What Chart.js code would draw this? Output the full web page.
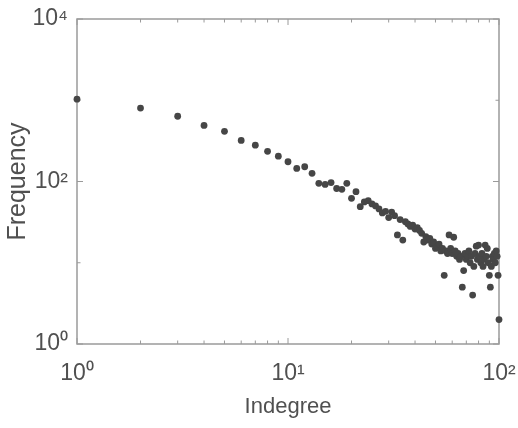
<!DOCTYPE html>
<html>
<head>
<meta charset="utf-8">
<script src="https://cdn.jsdelivr.net/npm/chart.js@4"></script>
<style>
  html, body { margin: 0; padding: 0; background: #fff; }
  #wrap { width: 518px; height: 428px; }
</style>
</head>
<body>
<div id="wrap"><canvas id="indegree-chart"></canvas></div>
<script>
// indegree values (x) and how often each occurs (y)
const indegree = [
  1, 2, 3, 4, 5, 6, 7, 8, 9, 10,
  11, 12, 13, 14, 15, 16, 17, 18, 19, 20,
  21, 22, 23, 24, 25, 26, 27, 28, 29, 30,
  31, 32, 33, 34, 35, 36, 37, 38, 39, 40,
  41, 42, 43, 44, 45, 46, 47, 48, 49, 50,
  51, 52, 53, 54, 55, 56, 57, 58, 59, 60,
  61, 62, 63, 64, 65, 66, 67, 68, 69, 70,
  71, 72, 73, 74, 75, 76, 77, 78, 79, 80,
  81, 82, 83, 84, 85, 86, 87, 88, 89, 90,
  91, 92, 93, 94, 95, 96, 97, 98, 99, 100
];
const frequency = [
  1030, 800, 635, 490, 415, 320, 280, 235, 205, 175,
  145, 152, 126, 95, 92, 97, 82, 80, 95, 62,
  75, 49, 56, 58, 53, 50, 46, 41, 43, 36,
  42, 38, 22, 34, 19, 32, 30, 28, 29, 26,
  27, 25, 23, 18, 21, 19, 20, 17, 18, 15,
  16, 17, 14, 15, 7, 14, 13, 22, 15, 13,
  20.6, 14, 12, 13, 11, 12, 5, 8, 13, 11,
  12, 14, 10, 12, 4, 9, 13, 16, 11, 16.5,
  12, 10, 13, 9, 11, 16.5, 12, 15, 10, 7,
  5, 9, 12, 11, 13, 10, 14, 12, 7, 2
];
const xTicks = [1, 10, 100];
const yTicks = [1, 100, 10000];
const xMinor = [2, 3, 4, 5, 6, 7, 8, 9, 20, 30, 40, 50, 60, 70, 80, 90];
const yMinor = [10, 1000];

const sup = { "0": "\u2070", "1": "\u00b9", "2": "\u00b2", "3": "\u00b3", "4": "\u2074" };
function powLabel(v) {
  const e = Math.round(Math.log10(v));
  return "10" + String(e).split("").map(c => sup[c]).join("");
}

const axisColor = "#9a9a9a";
const textColor = "#505050";

// box round the plot and little inward ticks, as matlab draws them
const boxPlugin = {
  id: "box",
  beforeDatasetsDraw(chart) {
    const { ctx, chartArea: a, scales } = chart;
    ctx.save();
    ctx.strokeStyle = axisColor;
    ctx.lineWidth = 1.5;
    ctx.strokeRect(a.left, a.top, a.right - a.left, a.bottom - a.top);
    ctx.lineWidth = 1;
    const tick = (vals, len, horiz) => {
      vals.forEach(v => {
        if (horiz) {
          const x = scales.x.getPixelForValue(v);
          ctx.beginPath();
          ctx.moveTo(x, a.bottom); ctx.lineTo(x, a.bottom - len);
          ctx.moveTo(x, a.top); ctx.lineTo(x, a.top + len);
          ctx.stroke();
        } else {
          const y = scales.y.getPixelForValue(v);
          ctx.beginPath();
          ctx.moveTo(a.left, y); ctx.lineTo(a.left + len, y);
          ctx.moveTo(a.right, y); ctx.lineTo(a.right - len, y);
          ctx.stroke();
        }
      });
    };
    tick(xTicks, 6, true);
    tick(xMinor, 3.5, true);
    tick(yTicks, 6, false);
    tick(yMinor, 3.5, false);
    ctx.restore();
  }
};

const ctx = document.getElementById("indegree-chart");
new Chart(ctx, {
  type: "scatter",
  data: {
    datasets: [{
      label: "Indegree",
      data: indegree.map((x, i) => ({ x: x, y: frequency[i] })),
      backgroundColor: "#464646",
      borderColor: "#464646",
      pointRadius: 3.4,
      pointBorderWidth: 0,
      clip: false
    }]
  },
  options: {
    responsive: true,
    maintainAspectRatio: false,
    animation: false,
    layout: { padding: { top: 19, right: 19, left: 0, bottom: 0 } },
    plugins: {
      legend: { display: false },
      tooltip: { enabled: false }
    },
    scales: {
      x: {
        type: "logarithmic",
        min: 1,
        max: 100,
        afterBuildTicks: s => { s.ticks = xTicks.map(v => ({ value: v })); },
        afterFit: s => { s.height = 84; s.paddingLeft = 0; s.paddingRight = 0; },
        grid: { display: false, drawTicks: false },
        border: { display: false },
        ticks: {
          callback: v => powLabel(v),
          color: textColor,
          padding: 16,
          maxRotation: 0,
          font: { family: "Liberation Sans, Arial", size: 23 }
        },
        title: {
          display: true,
          text: "Indegree",
          color: textColor,
          padding: { top: 0, bottom: 8 },
          font: { family: "Liberation Sans, Arial", size: 22 }
        }
      },
      y: {
        type: "logarithmic",
        min: 1,
        max: 10000,
        afterBuildTicks: s => { s.ticks = yTicks.map(v => ({ value: v })); },
        afterFit: s => { s.width = 77; s.paddingTop = 0; s.paddingBottom = 0; },
        grid: { display: false, drawTicks: false },
        border: { display: false },
        ticks: {
          callback: v => powLabel(v),
          color: textColor,
          padding: 9,
          font: { family: "Liberation Sans, Arial", size: 23 }
        },
        title: {
          display: true,
          text: "Frequency",
          color: textColor,
          padding: { top: 3, bottom: 0 },
          font: { family: "Liberation Sans, Arial", size: 25 }
        }
      }
    }
  },
  plugins: [boxPlugin]
});
</script>
</body>
</html>
